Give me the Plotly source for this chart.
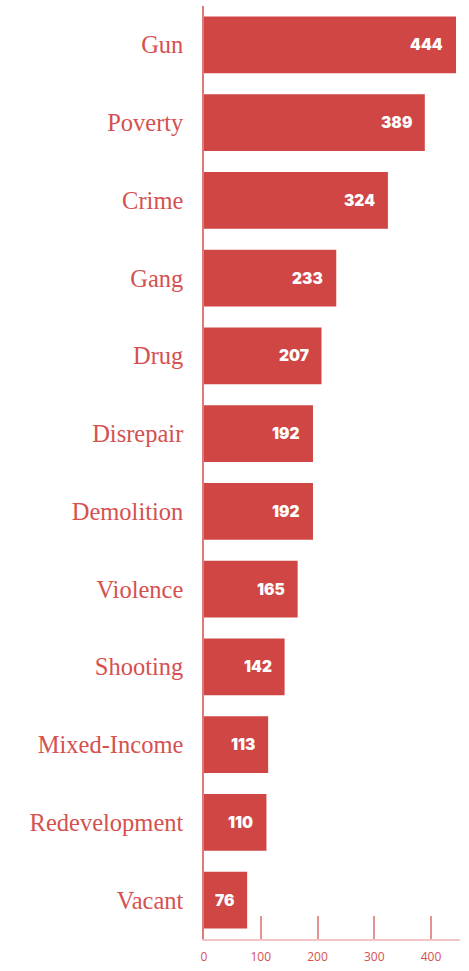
import plotly.graph_objects as go

# Word counts, ordered top to bottom
terms = ["Gun", "Poverty", "Crime", "Gang", "Drug", "Disrepair", "Demolition",
         "Violence", "Shooting", "Mixed-Income", "Redevelopment", "Vacant"]
counts = [444, 389, 324, 233, 207, 192, 192, 165, 142, 113, 110, 76]
tick_vals = [0, 100, 200, 300, 400]

RED = "#cf4644"

fig = go.Figure(
    go.Bar(
        x=counts,
        y=terms,
        orientation="h",
        marker=dict(color=RED, line=dict(width=0)),
        width=0.73,
        hoverinfo="skip",
    )
)

# value labels sitting inside the right end of each bar
for term, value in zip(terms, counts):
    fig.add_annotation(
        x=value, y=term, text=str(value), showarrow=False,
        xanchor="right", yanchor="middle", xshift=-11,
        font=dict(family="Inter", size=15.5, color="white", weight=900),
    )

fig.update_layout(
    width=469, height=971,
    margin=dict(l=204, r=9, t=6, b=29),
    paper_bgcolor="white", plot_bgcolor="white",
    showlegend=False,
    bargap=0.27,
    xaxis=dict(
        range=[0, 451],
        tickvals=tick_vals,
        ticks="inside", ticklen=23, tickwidth=1.5, tickcolor="#e49393",
        showline=True, linecolor="#f2c4c4", linewidth=1.5,
        showgrid=False, zeroline=False,
        tickfont=dict(family="Open Sans", size=12, color="#d5514f"),
        ticklabelstandoff=6,
        fixedrange=True,
    ),
    yaxis=dict(
        categoryorder="array", categoryarray=terms[::-1],
        showline=True, linecolor="#de7a79", linewidth=1.5,
        showgrid=False, zeroline=False, ticks="",
        tickfont=dict(family="Liberation Serif", size=24.5, color="#d5514f"),
        ticklabelstandoff=14,
        fixedrange=True,
    ),
)

fig.write_html("out.html", config={"displayModeBar": False})
